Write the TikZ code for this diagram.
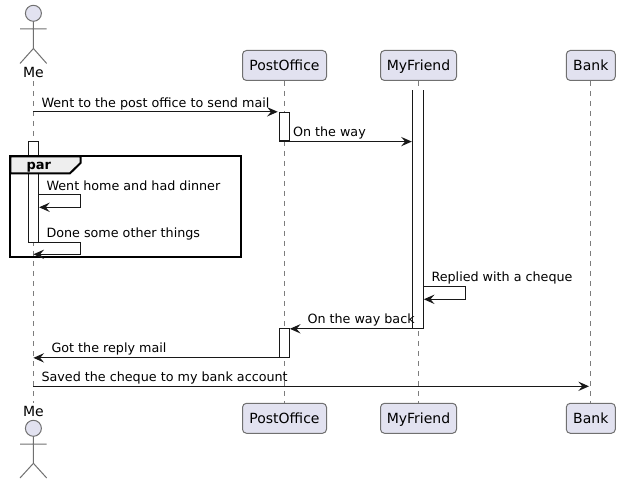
\documentclass[tikz,border=0pt]{standalone}
\usepackage{fontspec}
\setmainfont{DejaVu Sans}
\usetikzlibrary{arrows.meta}

\definecolor{partfill}{RGB}{226,226,240}
\definecolor{partline}{RGB}{112,112,112}
\definecolor{lifegray}{RGB}{125,125,125}
\definecolor{tabfill}{RGB}{238,238,238}
\definecolor{msgline}{RGB}{24,24,24}

\tikzset{every picture/.style={line width=0.75pt}}
\tikzset{
  partbox/.style={draw=partline,fill=partfill,rounded corners=3pt,inner sep=0pt,minimum height=22.5pt,text height=7.6pt,text depth=0pt,font=\fontsize{10.5}{12}\selectfont,text=black},
  actname/.style={inner sep=0pt,anchor=base,font=\fontsize{10.5}{12}\selectfont},
  lifeline/.style={draw=lifegray,dash pattern=on 3.75pt off 3.75pt},
  actfig/.style={draw=partline,fill=partfill},
  actbar/.style={draw=msgline,line width=0.85pt,fill=white,inner sep=0pt,minimum width=7.5pt},
  msgarrow/.style={draw=msgline,line width=0.85pt,-{Stealth[length=8pt,width=7pt,inset=3pt]}},
  msgtext/.style={inner sep=0pt,anchor=base west,font=\fontsize{9.55}{12}\selectfont,text=black},
}

\begin{document}
\begin{tikzpicture}[x=0.75pt,y=0.75pt,yscale=-1]
\useasboundingbox (0,0) rectangle (620,484);

% Participants
\node [partbox,minimum width=63pt] (posttop) at (284.5,65.5) {PostOffice};
\node [partbox,minimum width=57pt] (friendtop) at (418.5,65.5) {MyFriend};
\node [partbox,minimum width=36.75pt] (banktop) at (590.8,65.5) {Bank};
\node [partbox,minimum width=63pt] (postbot) at (284.5,418.3) {PostOffice};
\node [partbox,minimum width=57pt] (friendbot) at (418.5,418.3) {MyFriend};
\node [partbox,minimum width=36.75pt] (bankbot) at (590.8,418.3) {Bank};
\node [actname] (metop) at (33.4,78) {Me};
\node [actname] (mebot) at (33.4,416) {Me};

% Lifelines
\draw [lifeline] (33.4,81) -- (33.4,403);
\draw [lifeline] (posttop.south) -- (postbot.north);
\draw [lifeline] (friendtop.south) -- (friendbot.north);
\draw [lifeline] (banktop.south) -- (bankbot.north);

% Actors
\draw [actfig] (33.4,13.3) circle [radius=8];
\draw [draw=partline] (33.4,21.3) -- (33.4,48.5) (20,29) -- (46.7,29) (20,63.5) -- (33.4,48.5) -- (46.7,63.5);
\draw [actfig] (33.4,428.3) circle [radius=8];
\draw [draw=partline] (33.4,436.3) -- (33.4,463.3) (20,444) -- (46.7,444) (20,478) -- (33.4,463.3) -- (46.7,478);

% Activation bars
\node [actbar,minimum height=21.5pt] (postbara) at (284.3,126.7) {};
\node [actbar,minimum height=21.75pt] (postbarb) at (284.3,342.8) {};
\node [actbar,minimum height=75.75pt] (mebar) at (33.5,191.8) {};
\node [fill=white,inner sep=0pt,minimum width=7.5pt,minimum height=178pt] (friendbar) at (418.3,209.65) {};
\draw [draw=msgline,line width=0.85pt] (friendbar.north west) -- (friendbar.south west) -- (friendbar.south east) -- (friendbar.north east);

% Par frame
\draw [line width=1.5pt,draw=black] (10.3,156.5) rectangle (240.5,257);
\draw [line width=1.5pt,draw=black,fill=tabfill] (10.3,156.5) -- (80.5,156.5) -- (80.5,163) -- (70,173.3) -- (10.3,173.3) -- cycle;
\node [inner sep=0pt,anchor=base west,font=\fontsize{9.75}{12}\selectfont\bfseries] (partitle) at (26,170) {par};

% Message ends
\coordinate (sendfrom) at (33.4,0 |- postbara.north west);
\coordinate (wayto) at (friendbar.west |- postbara.south);
\coordinate (meend) at (33.4,254.3);
\coordinate (gotto) at (33.4,0 |- postbarb.south west);
\coordinate (waybackto) at (postbarb.north east);
\coordinate (savefrom) at (33.4,386.3);
\coordinate (saveto) at (590,386.3);

% Messages
\draw [msgarrow,shorten >=0.75pt] (sendfrom) -- (postbara.north west);
\draw [msgarrow,shorten >=0.75pt] (postbara.south east) -- (wayto);
\draw [msgarrow] (mebar.east |- 0,194.3) -- (80.5,194.3) -- (80.5,207.3) -- (mebar.east |- 0,207.3);
\draw [msgarrow] (mebar.south east) -- (80.5,0 |- mebar.south east) -- (80.5,254.3) -- (meend);
\draw [msgarrow] (friendbar.east |- 0,286.3) -- (465.3,286.3) -- (465.3,299.3) -- (friendbar.east |- 0,299.3);
\draw [msgarrow] (friendbar.south west) -- (friendbar.south west -| waybackto);
\draw [msgarrow] (postbarb.south west) -- (gotto);
\draw [msgarrow,shorten >=0.75pt] (savefrom) -- (saveto);

% Text Node
\node [msgtext] (sendtext) at (41,107.2) {Went to the post office to send mail};
\node [msgtext] (waytext) at (292.5,136.5) {On the way};
\node [msgtext] (dinnertext) at (46,190.4) {Went home and had dinner};
\node [msgtext] (othertext) at (46,237.6) {Done some other things};
\node [msgtext] (chequetext) at (431,281.4) {Replied with a cheque};
\node [msgtext] (backtext) at (307,323.6) {On the way back};
\node [msgtext] (replytext) at (51,352.6) {Got the reply mail};
\node [msgtext] (savetext) at (41,381) {Saved the cheque to my bank account};

\end{tikzpicture}
\end{document}
